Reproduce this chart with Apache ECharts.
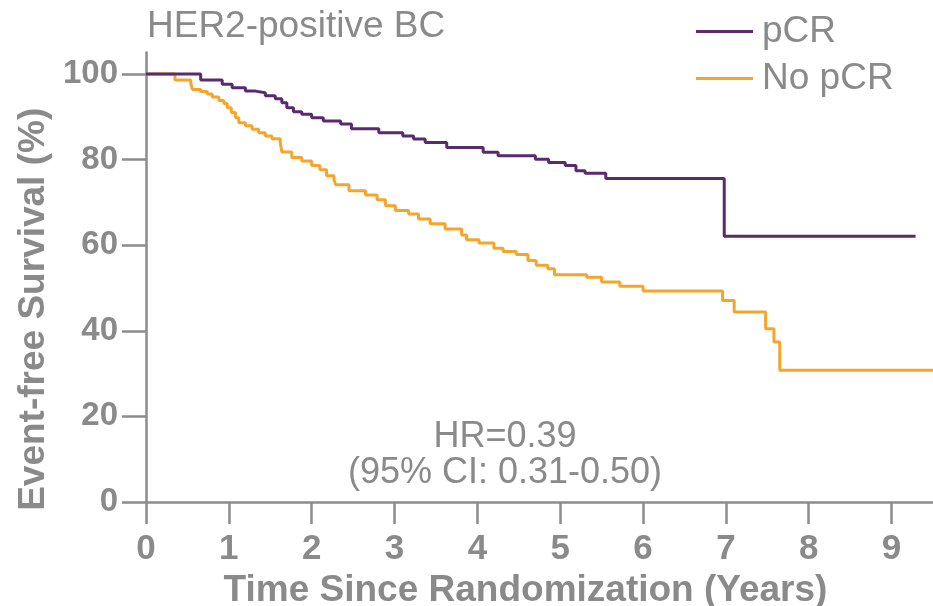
<!DOCTYPE html>
<html>
<head>
<meta charset="utf-8">
<script src="https://cdn.jsdelivr.net/npm/echarts@6/dist/echarts.min.js"></script>
<style>
html,body{margin:0;padding:0;background:#fff;}
#chart{width:933px;height:606px;}
</style>
</head>
<body>
<div id="chart"></div>
<script>
// ---- Data ----
const pcrTime = [0, 0.66, 0.92, 1.04, 1.2, 1.32, 1.44, 1.56, 1.64, 1.7, 1.78, 1.88, 2.0, 2.14, 2.35, 2.48, 2.81, 3.1, 3.23, 3.37, 3.63, 4.07, 4.25, 4.7, 4.86, 5.06, 5.19, 5.3, 5.55, 6.98, 9.29];
const pcrSurv = [100, 98.6, 97.6, 96.8, 96.0, 95.6, 94.9, 94.2, 93.3, 92.1, 91.2, 90.6, 89.8, 89.0, 88.3, 87.2, 86.3, 85.5, 84.8, 84.0, 82.8, 81.7, 80.9, 80.1, 79.3, 78.6, 77.4, 76.8, 75.6, 62.1, 62.1];

const noPcrTime = [0, 0.35, 0.54, 0.56, 0.66, 0.74, 0.8, 0.88, 0.94, 0.98, 1.03, 1.08, 1.12, 1.2, 1.28, 1.36, 1.44, 1.52, 1.62, 1.64, 1.76, 1.88, 2.0, 2.1, 2.18, 2.27, 2.29, 2.45, 2.65, 2.79, 2.89, 3.01, 3.17, 3.29, 3.43, 3.61, 3.81, 3.87, 4.02, 4.2, 4.31, 4.47, 4.61, 4.71, 4.85, 4.93, 5.32, 5.5, 5.72, 6.0, 6.96, 7.1, 7.48, 7.58, 7.65, 9.5];
const noPcrSurv = [100, 98.6, 97.8, 96.4, 95.9, 95.3, 94.6, 93.8, 93.1, 92.1, 91.0, 89.8, 88.6, 87.9, 87.1, 86.3, 85.5, 84.9, 84.0, 81.8, 80.5, 79.7, 78.6, 77.6, 76.2, 75.2, 74.1, 72.7, 71.7, 70.6, 69.2, 68.1, 67.3, 66.1, 65.0, 63.8, 62.4, 61.3, 60.5, 59.3, 58.5, 57.8, 56.4, 55.3, 54.5, 53.1, 52.5, 51.4, 50.4, 49.3, 47.1, 44.4, 40.5, 37.4, 30.8, 30.8];

const xTicks = [0, 1, 2, 3, 4, 5, 6, 7, 8, 9];
const yTicks = [0, 20, 40, 60, 80, 100];
const seriesNames = ['pCR', 'No pCR'];
const titleText = 'HER2-positive BC';
const hrLines = ['HR=0.39', '(95% CI: 0.31-0.50)'];

// ---- Chart ----
const FONT = '"Liberation Sans", Arial, sans-serif';
const GRAY = '#8a8a8a';
const AXIS = '#8c8c8c';
const PURPLE = '#5b2a6e';
const ORANGE = '#f5a52c';

const zip = (a, b) => a.map((v, i) => [v, b[i]]);

const chart = echarts.init(document.getElementById('chart'), null, {renderer: 'canvas'});
chart.setOption({
  animation: false,
  backgroundColor: '#fff',
  title: {
    text: titleText, left: 147, top: 8, padding: 0,
    textStyle: {fontFamily: FONT, fontSize: 37, fontWeight: 'normal', color: GRAY}
  },
  legend: {
    orient: 'vertical', left: 696, top: 13, padding: 0,
    itemWidth: 57, itemHeight: 3, itemGap: 10,
    icon: 'rect',
    textStyle: {fontFamily: FONT, fontSize: 37, color: GRAY, padding: [0, 0, 0, 4]},
    data: seriesNames
  },
  grid: {left: 146, right: 0, top: 502 - 105 * 4.28, bottom: 104, containLabel: false, outerBoundsMode: 'none'},
  xAxis: {
    type: 'value', min: 0, max: 9.5,
    name: 'Time Since Randomization (Years)', nameLocation: 'middle', nameGap: 68,
    nameTextStyle: {fontFamily: FONT, fontSize: 37, fontWeight: 'bold', color: GRAY, padding: [0, 28, 0, 0]},
    axisLine: {show: true, lineStyle: {color: AXIS, width: 2.5}},
    axisTick: {show: true, customValues: xTicks, length: 22, lineStyle: {color: AXIS, width: 2.5}},
    axisLabel: {customValues: xTicks, margin: 30, fontFamily: FONT, fontSize: 35, fontWeight: 'bold', color: GRAY},
    splitLine: {show: false}
  },
  yAxis: {
    type: 'value', min: 0, max: 105,
    name: 'Event-free Survival (%)', nameLocation: 'middle', nameGap: 92, nameRotate: 90,
    nameTextStyle: {fontFamily: FONT, fontSize: 37, fontWeight: 'bold', color: GRAY, padding: [0, 64, 0, 0]},
    axisLine: {show: true, lineStyle: {color: AXIS, width: 2.5}},
    axisTick: {show: true, customValues: yTicks, length: 24, lineStyle: {color: AXIS, width: 2.5}},
    axisLabel: {customValues: yTicks, margin: 28, fontFamily: FONT, fontSize: 33, fontWeight: 'bold', color: GRAY},
    splitLine: {show: false}
  },
  graphic: [
    {type: 'text', x: 505, y: 437, style: {text: hrLines[0], fontFamily: FONT, fontSize: 36, fill: GRAY, align: 'center', verticalAlign: 'middle'}},
    {type: 'text', x: 505, y: 473, style: {text: hrLines[1], fontFamily: FONT, fontSize: 36, fill: GRAY, align: 'center', verticalAlign: 'middle'}}
  ],
  series: [
    {name: seriesNames[0], type: 'line', step: 'end', showSymbol: false, symbol: 'none',
     lineStyle: {color: PURPLE, width: 3}, itemStyle: {color: PURPLE}, z: 3,
     data: zip(pcrTime, pcrSurv)},
    {name: seriesNames[1], type: 'line', step: 'end', showSymbol: false, symbol: 'none',
     lineStyle: {color: ORANGE, width: 3}, itemStyle: {color: ORANGE}, z: 2,
     data: zip(noPcrTime, noPcrSurv)}
  ]
});
</script>
</body>
</html>
